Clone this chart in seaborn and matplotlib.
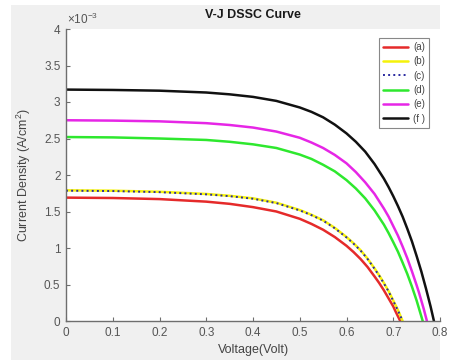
import numpy as np
import pandas as pd
import matplotlib as mpl
mpl.use('Agg')
import matplotlib.pyplot as plt
from matplotlib.patches import Rectangle
from matplotlib.ticker import FuncFormatter
import seaborn as sns

# current density in units of 1e-3 A/cm^2
v_a = [0, 0.1, 0.2, 0.3, 0.35, 0.4, 0.45, 0.5, 0.525, 0.55, 0.575, 0.6, 0.615, 0.63,
       0.645, 0.66, 0.67, 0.68, 0.69, 0.70, 0.705, 0.715]
j_a = [1.69, 1.685, 1.67, 1.635, 1.605, 1.56, 1.50, 1.40, 1.33, 1.25, 1.15, 1.03, 0.945, 0.85,
       0.74, 0.61, 0.52, 0.42, 0.31, 0.20, 0.13, 0.0]

v_b = [0, 0.1, 0.2, 0.3, 0.35, 0.4, 0.45, 0.5, 0.525, 0.55, 0.575, 0.6, 0.615, 0.63,
       0.645, 0.66, 0.67, 0.68, 0.69, 0.70, 0.71, 0.72]
j_b = [1.79, 1.785, 1.77, 1.74, 1.715, 1.68, 1.62, 1.52, 1.455, 1.38, 1.275, 1.15, 1.065, 0.97,
       0.855, 0.72, 0.625, 0.52, 0.41, 0.28, 0.15, 0.0]

v_c = [0, 0.1, 0.2, 0.3, 0.35, 0.4, 0.45, 0.5, 0.525, 0.55, 0.575, 0.6, 0.615, 0.63,
       0.645, 0.66, 0.67, 0.68, 0.69, 0.70, 0.71, 0.72]
j_c = [1.785, 1.78, 1.765, 1.735, 1.71, 1.675, 1.615, 1.515, 1.45, 1.375, 1.27, 1.145, 1.06, 0.965,
       0.85, 0.715, 0.62, 0.515, 0.405, 0.275, 0.145, 0.0]

v_d = [0, 0.1, 0.2, 0.3, 0.35, 0.4, 0.45, 0.5, 0.525, 0.55, 0.575, 0.6, 0.62, 0.64,
       0.66, 0.68, 0.69, 0.70, 0.71, 0.72, 0.73, 0.74, 0.75, 0.763]
j_d = [2.52, 2.515, 2.50, 2.48, 2.455, 2.42, 2.37, 2.28, 2.22, 2.14, 2.05, 1.93, 1.815, 1.68,
       1.515, 1.32, 1.205, 1.08, 0.95, 0.80, 0.645, 0.47, 0.28, 0.0]

v_e = [0, 0.1, 0.2, 0.3, 0.35, 0.4, 0.45, 0.5, 0.525, 0.55, 0.575, 0.6, 0.62, 0.64,
       0.66, 0.68, 0.69, 0.70, 0.71, 0.72, 0.73, 0.74, 0.75, 0.755, 0.765, 0.772]
j_e = [2.75, 2.745, 2.735, 2.71, 2.685, 2.65, 2.595, 2.51, 2.445, 2.37, 2.275, 2.16, 2.04, 1.90,
       1.74, 1.54, 1.43, 1.30, 1.17, 1.02, 0.86, 0.68, 0.49, 0.39, 0.17, 0.0]

v_f = [0, 0.1, 0.2, 0.3, 0.35, 0.4, 0.45, 0.5, 0.525, 0.55, 0.575, 0.6, 0.62, 0.64,
       0.66, 0.68, 0.69, 0.70, 0.71, 0.72, 0.73, 0.74, 0.75, 0.76, 0.77, 0.775, 0.78, 0.787]
j_f = [3.17, 3.165, 3.155, 3.13, 3.105, 3.07, 3.015, 2.925, 2.865, 2.79, 2.69, 2.57, 2.455, 2.32,
       2.15, 1.95, 1.835, 1.71, 1.575, 1.43, 1.265, 1.09, 0.89, 0.68, 0.445, 0.32, 0.195, 0.0]

labels = ['(a)', '(b)', '(c)', '(d)', '(e)', '(f )']
colors = ['#e52a2a', '#f5f20a', '#2a2aa0', '#2ee82e', '#e626e6', '#111111']
styles = ['-', '-', ':', '-', '-', '-']

x_ticks = [0, 0.1, 0.2, 0.3, 0.4, 0.5, 0.6, 0.7, 0.8]
y_ticks = [0, 0.5, 1, 1.5, 2, 2.5, 3, 3.5, 4]


def main():
    sns.set_theme(style='ticks')
    plt.rcParams['font.family'] = ['Liberation Sans', 'DejaVu Sans']
    plt.rcParams['mathtext.fontset'] = 'custom'
    plt.rcParams['mathtext.rm'] = 'Liberation Sans'

    fig = plt.figure(figsize=(4.72, 3.6), dpi=100, facecolor='white')
    # matlab-ish grey window behind the axes
    fig.add_artist(Rectangle((11 / 472, 0), (440 - 11) / 472, 355 / 360,
                             transform=fig.transFigure, color='#f0f0f0',
                             zorder=-10, lw=0))
    ax = fig.add_axes([66 / 472, 1 - 321 / 360, 374 / 472, 292 / 360])
    ax.set_facecolor('white')

    curves = [(v_a, j_a), (v_b, j_b), (v_c, j_c), (v_d, j_d), (v_e, j_e), (v_f, j_f)]
    for (v, j), lab, col, ls in zip(curves, labels, colors, styles):
        df = pd.DataFrame({'V': v, 'J': j})
        lw = 1.4 if ls == ':' else 1.8
        sns.lineplot(data=df, x='V', y='J', ax=ax, color=col, linestyle=ls,
                     linewidth=lw, label=lab, sort=False, estimator=None,
                     solid_joinstyle='round')

    ax.set_xlim(0, 0.8)
    ax.set_ylim(0, 4)
    ax.set_xticks(x_ticks)
    ax.set_yticks(y_ticks)
    fmt = FuncFormatter(lambda val, pos: '%g' % round(val, 2))
    ax.xaxis.set_major_formatter(fmt)
    ax.yaxis.set_major_formatter(fmt)

    grey = '#6e6e6e'
    for side in ['top', 'right']:
        ax.spines[side].set_visible(False)
    for side in ['left', 'bottom']:
        ax.spines[side].set_color(grey)
        ax.spines[side].set_linewidth(1.0)
    ax.tick_params(direction='in', length=3, width=0.8, color=grey,
                   labelcolor='#555555', labelsize=8.5, pad=4)

    ax.set_xlabel('Voltage(Volt)', fontsize=9, color='#444444', labelpad=4)
    ax.set_ylabel('Current Density (A/cm$^2$)', fontsize=9, color='#444444', labelpad=8)
    ax.set_title('V-J DSSC Curve', fontsize=9, fontweight='bold', color='#1a1a1a', pad=8)
    ax.text(0.003, 1.008, r'$\times10^{-3}$', transform=ax.transAxes,
            fontsize=8.5, color='#555555', ha='left', va='bottom')

    leg = ax.legend(loc='upper right', bbox_to_anchor=(0.971, 0.969),
                    borderaxespad=0, fontsize=7, handlelength=2.6,
                    labelspacing=0.45, handletextpad=0.5, borderpad=0.4,
                    fancybox=False, framealpha=1, edgecolor='#888888')
    for t in leg.get_texts():
        t.set_color('#444444')
    leg.get_frame().set_linewidth(0.8)

    fig.savefig('out.png', dpi=100, facecolor=fig.get_facecolor())
    return


if __name__ == "__main__":
    main()
